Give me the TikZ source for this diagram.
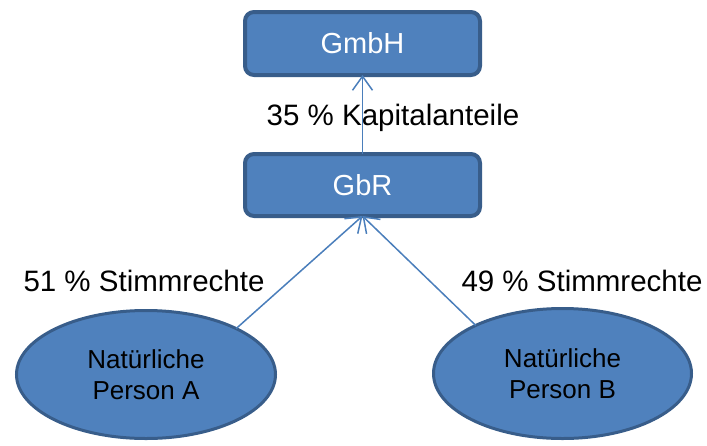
\documentclass[tikz,border=0pt]{standalone}
\usepackage{fontspec}
\setmainfont{Liberation Sans}
\usetikzlibrary{shapes.geometric,arrows.meta}
\definecolor{boxfill}{HTML}{4F81BD}
\definecolor{boxline}{HTML}{385D8A}
\definecolor{conn}{HTML}{4A7EBB}
\tikzset{
  orgbox/.style={draw=boxline, fill=boxfill, line width=4pt, rounded corners=9pt,
    minimum width=235pt, minimum height=63pt, inner sep=0pt, outer sep=0pt,
    text=white, font=\fontsize{29}{34}\selectfont},
  person/.style={ellipse, draw=boxline, fill=boxfill, line width=3pt,
    inner sep=0pt, outer sep=0pt, align=center, text=black,
    font=\fontsize{26}{30.5}\selectfont},
  lbl/.style={text=black, font=\fontsize{29.5}{34}\selectfont, inner sep=0pt},
  conn/.style={draw=conn, line width=1.5pt, -{Straight Barb[length=14pt,width=20pt,line width=1.5pt]}}
}
\begin{document}
\begin{tikzpicture}[x=1pt,y=-1pt]
\useasboundingbox (0,0) rectangle (707,445);
\node[orgbox] (gmbh) at (362.5,43.5) {GmbH};
\node[orgbox, minimum height=62pt] (gbr) at (362.5,185) {GbR};
\node[person, minimum width=259pt, minimum height=128pt] (pa) at (146,374.5) {Natürliche\\Person A};
\node[person, minimum width=258pt, minimum height=130pt] (pb) at (562.5,373.5) {Natürliche\\Person B};
\draw[conn] (gbr.north) -- (gmbh.south);
\draw[conn] (pa.27) -- (gbr.south);
\draw[conn] (pb.151) -- (gbr.south);
\node[lbl] (l35) at (393,118) {35 \% Kapitalanteile};
\node[lbl] (l51) at (144,281) {51 \% Stimmrechte};
\node[lbl] (l49) at (582,281) {49 \% Stimmrechte};
\end{tikzpicture}
\end{document}
